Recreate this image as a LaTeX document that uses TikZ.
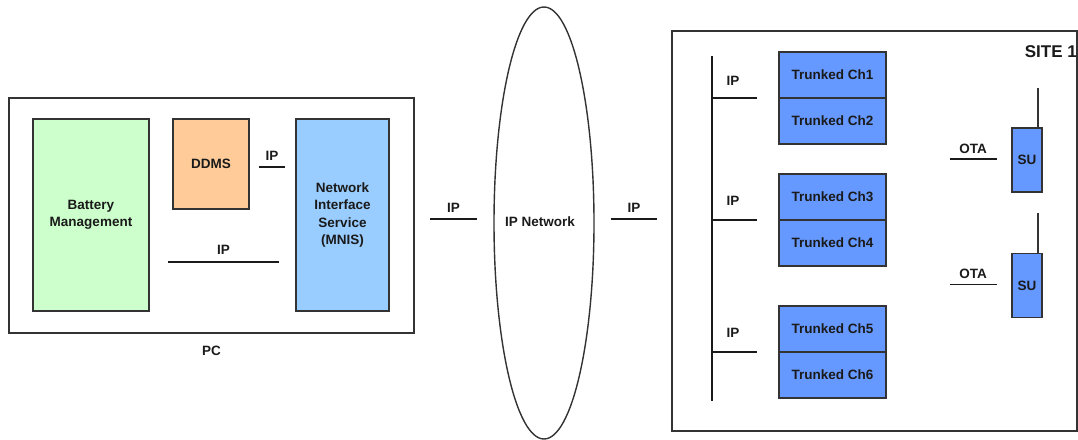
\documentclass[tikz,border=0pt]{standalone}
\usepackage{fontspec}
\setmainfont{Liberation Sans}
\usetikzlibrary{shapes.geometric}
\definecolor{bmgreen}{HTML}{CCFFCC}
\definecolor{ddorange}{HTML}{FFCC99}
\definecolor{mnblue}{HTML}{99CCFF}
\definecolor{chblue}{HTML}{6699FF}
\definecolor{txt}{HTML}{1A1A1A}
\definecolor{edge}{HTML}{333333}
\begin{document}
\begin{tikzpicture}[x=1pt,y=-1pt,
  lbl/.style={font=\fontsize{13.5}{17.5}\selectfont\bfseries, text=txt, align=center, inner sep=0pt},
  box/.style={draw=edge, line width=1.4pt, rectangle, inner sep=0pt, lbl},
  frame/.style={draw=edge, line width=1.4pt, rectangle, inner sep=0pt, fill=white},
  wire/.style={draw=txt, line width=1.7pt}
]
\useasboundingbox (0,0) rectangle (1078,439);
% PC frame
\node[frame, minimum width=405pt, minimum height=235pt] (pc) at (211.5,215.5) {};
\node[lbl] (pclbl) at (211.5,351) {PC};
\node[box, fill=bmgreen, minimum width=116pt, minimum height=192pt] (bm) at (91,215) {Battery\\Management};
\node[box, fill=ddorange, minimum width=76pt, minimum height=90pt] (ddms) at (211,164) {DDMS};
\node[box, fill=mnblue, minimum width=93pt, minimum height=192pt] (mnis) at (342.5,215) {Network\\Interface\\Service\\(MNIS)};
\coordinate (a1) at (259,167); \coordinate (a2) at (285,167);
\draw[wire] (a1) -- node[lbl, above=6pt] (ipa) {IP} (a2);
\coordinate (b1) at (168,262); \coordinate (b2) at (279,262);
\draw[wire] (b1) -- node[lbl, above=7pt] (ipb) {IP} (b2);
% IP network
\node[draw=edge, line width=1.4pt, ellipse, minimum width=100pt, minimum height=432pt, inner sep=0pt] (net) at (544,223) {};
\node[lbl] (netlbl) at (540,222) {IP Network};
\coordinate (c1) at (430,219); \coordinate (c2) at (477,219);
\draw[wire] (c1) -- node[lbl, above=6pt] (ipc) {IP} (c2);
\coordinate (d1) at (611,219); \coordinate (d2) at (657,219);
\draw[wire] (d1) -- node[lbl, above=6pt] (ipd) {IP} (d2);
% Site
\node[frame, minimum width=405pt, minimum height=400pt] (site) at (874.5,231) {};
\node[lbl, font=\fontsize{17}{20}\selectfont\bfseries, anchor=east] (sitelbl) at (1077,52) {SITE 1};
\coordinate (bt) at (712,56); \coordinate (bb) at (712,401);
\draw[wire] (bt) -- (bb);
\foreach \i/\y/\ly in {1/98/81,2/220/201,3/352/333}{
  \coordinate (s\i a) at (712,\y); \coordinate (s\i b) at (757,\y);
  \draw[wire] (s\i a) -- (s\i b);
  \node[lbl] (ip\i) at (733,\ly) {IP};
}
\foreach \n/\y in {1/75,2/121,3/197,4/243,5/329,6/375}{
  \node[box, fill=chblue, minimum width=107pt, minimum height=46pt] (ch\n) at (832.5,\y) {Trunked Ch\n};
}
% SUs
\foreach \k/\y/\ty/\ly in {1/160/88/149,2/285.5/213/274}{
  \node[box, fill=chblue, minimum width=30pt, minimum height=64pt] (su\k) at (1027,\y) {SU};
  \coordinate (ant\k) at (1038,\ty);
  \draw[draw=edge, line width=1.3pt] (ant\k) -- (ant\k |- su\k.north);
  \coordinate (o\k a) at (950,\y-1); \coordinate (o\k b) at (997,\y-1);
  \draw[wire] (o\k a) -- (o\k b);
  \node[lbl] (ota\k) at (973,\ly) {OTA};
}
\end{tikzpicture}
\end{document}
